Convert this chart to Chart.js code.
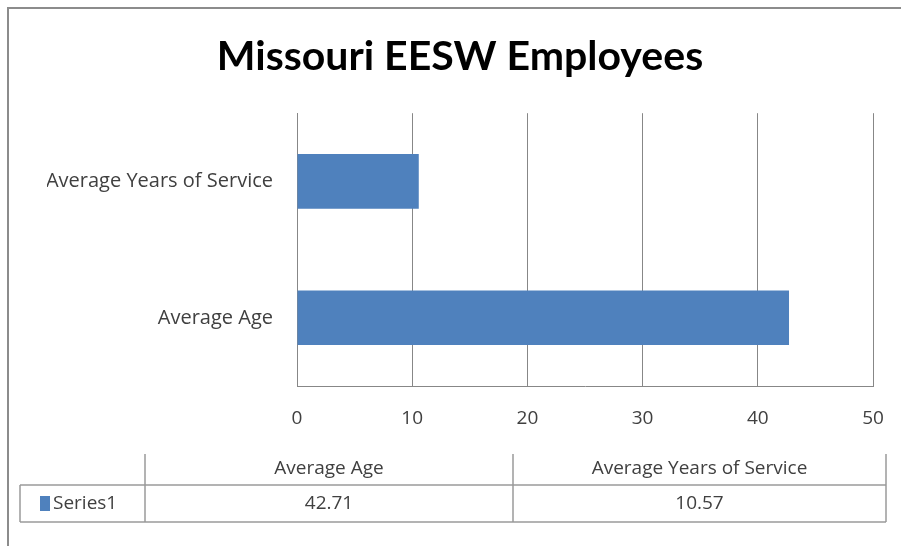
<!DOCTYPE html>
<html>
<head>
<meta charset="utf-8">
<script src="https://cdn.jsdelivr.net/npm/chart.js@4/dist/chart.umd.min.js"></script>
<style>
html,body{margin:0;padding:0;background:#fff;}
#wrap{position:relative;width:901px;height:546px;}
canvas{display:block;}
</style>
</head>
<body>
<div id="wrap"><canvas id="c" width="901" height="546"></canvas></div>
<script>
const chartTitle = "Missouri EESW Employees";
const categories = ["Average Age", "Average Years of Service"];
const seriesName = "Series1";
const seriesValues = [42.71, 10.57];
const tableValueLabels = ["42.71", "10.57"];
const xTicks = [0, 10, 20, 30, 40, 50];

const FONT = "'Open Sans', Lato, sans-serif";
const TITLE_FONT = "Lato, 'Open Sans', sans-serif";
const GRID = "#878787";
const BAR = "#4F81BD";
const TXT = "#404040";

const framePlugin = {
  id: "frame",
  beforeDraw(chart) {
    const ctx = chart.ctx;
    ctx.save();
    ctx.fillStyle = "#fff";
    ctx.fillRect(0, 0, chart.width, chart.height);
    ctx.strokeStyle = "#8c8c8c";
    ctx.lineWidth = 2;
    ctx.beginPath();
    ctx.moveTo(8, chart.height);
    ctx.lineTo(8, 8);
    ctx.lineTo(chart.width, 8);
    ctx.stroke();
    ctx.restore();
  }
};

const tablePlugin = {
  id: "dataTable",
  afterDraw(chart) {
    const ctx = chart.ctx;
    const labels = chart.data.labels;
    const ds = chart.data.datasets[0];
    const x0 = 20, x1 = 145, x2 = 513, x3 = 886;
    const yh = 454, ym = 485, yb = 522;
    ctx.save();
    ctx.strokeStyle = "#9a9a9a";
    ctx.lineWidth = 1.5;
    ctx.beginPath();
    [x1, x2, x3].forEach(x => { ctx.moveTo(x, yh); ctx.lineTo(x, yb); });
    ctx.moveTo(x0, ym); ctx.lineTo(x3, ym);
    ctx.moveTo(x0, yb); ctx.lineTo(x3, yb);
    ctx.moveTo(x0, ym); ctx.lineTo(x0, yb);
    ctx.stroke();
    ctx.fillStyle = TXT;
    ctx.font = "19px " + FONT;
    ctx.textAlign = "center";
    ctx.textBaseline = "middle";
    const cols = [[x1, x2], [x2, x3]];
    labels.forEach((lab, i) => {
      const cx = (cols[i][0] + cols[i][1]) / 2;
      ctx.fillText(lab, cx, 469);
      ctx.fillText(tableValueLabels[i], cx, 504);
    });
    ctx.fillStyle = BAR;
    ctx.fillRect(40, 496, 10, 15);
    ctx.fillStyle = TXT;
    ctx.textAlign = "left";
    ctx.fillText(ds.label, 53, 504);
    ctx.restore();
  }
};

new Chart(document.getElementById("c"), {
  type: "bar",
  data: {
    labels: categories,
    datasets: [{
      label: seriesName,
      data: seriesValues,
      backgroundColor: BAR,
      borderWidth: 0,
      barPercentage: 0.4,
      categoryPercentage: 1.0
    }]
  },
  options: {
    indexAxis: "y",
    responsive: false,
    animation: false,
    devicePixelRatio: 1,
    layout: { padding: { left: 47, right: 28, top: 0, bottom: 110 } },
    plugins: {
      legend: { display: false },
      tooltip: { enabled: false },
      title: {
        display: true,
        text: chartTitle,
        color: "#000",
        font: { family: TITLE_FONT, size: 41, weight: "bold" },
        padding: { top: 32, bottom: 32 }
      }
    },
    scales: {
      x: {
        min: 0, max: 50,
        afterBuildTicks(scale) { scale.ticks = xTicks.map(v => ({ value: v })); },
        afterFit(scale) { scale.height = 50; scale.paddingRight = 0; scale.paddingLeft = 0; },
        grid: { color: GRID, lineWidth: 1, drawTicks: false },
        border: { display: true, color: GRID, width: 1 },
        ticks: { color: TXT, font: { family: FONT, size: 19 }, padding: 21, maxRotation: 0 }
      },
      y: {
        reverse: true,
        afterFit(scale) { scale.width = 297 - 47; },
        grid: { display: false, drawTicks: false },
        border: { display: true, color: GRID, width: 1 },
        ticks: { color: TXT, font: { family: FONT, size: 20 }, padding: 24 }
      }
    }
  },
  plugins: [framePlugin, tablePlugin]
});
</script>
</body>
</html>
